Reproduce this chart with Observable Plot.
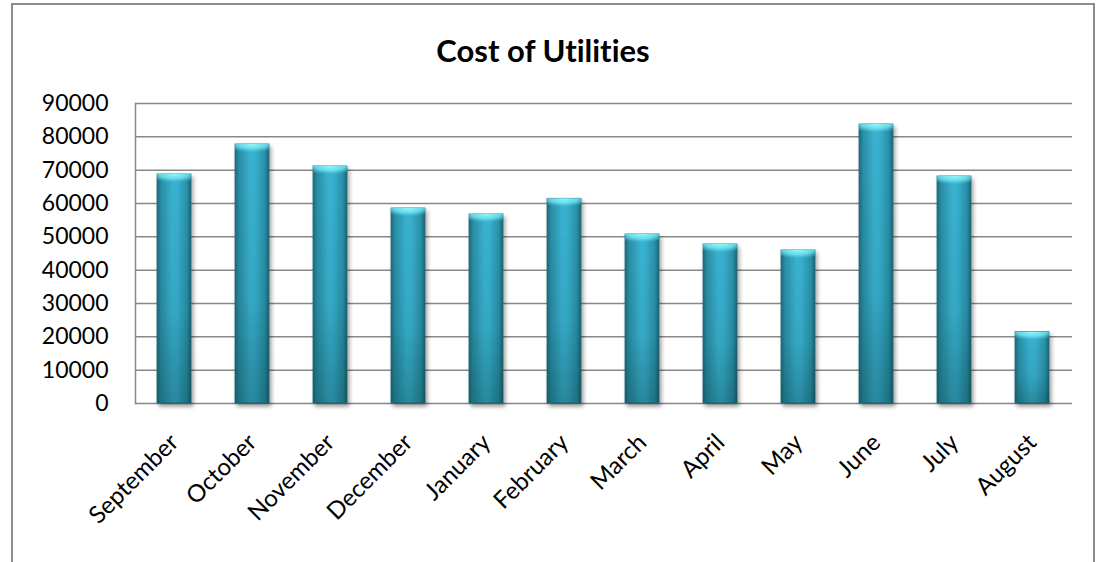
<!DOCTYPE html>
<html>
<head>
<meta charset="utf-8">
<script src="https://cdn.jsdelivr.net/npm/d3@7"></script>
<script src="https://cdn.jsdelivr.net/npm/@observablehq/plot@0.6"></script>
<style>
  html, body { margin: 0; padding: 0; background: #fff; }
  #wrap { position: relative; width: 1104px; height: 562px; overflow: hidden; font-family: Lato, "Open Sans", sans-serif; font-variant-ligatures: none; }
  #border { position: absolute; left: 11px; top: 3px; width: 1084px; height: 620px; border: 2px solid #8c8c8c; box-sizing: border-box; }
  #title { position: absolute; left: 0; width: 1086px; top: 31px; text-align: center; font-weight: bold; font-size: 31px; color: #000; line-height: 38px; font-variant-ligatures: none; font-feature-settings: "liga" 0, "clig" 0; }
  #plot { position: absolute; left: 0; top: 0; }
  svg text { font-variant-ligatures: none; }
</style>
</head>
<body>
<div id="wrap">
  <div id="border"></div>
  <div id="title">Cost of Utilities</div>
  <div id="plot"></div>
</div>
<script>
const months = ["September","October","November","December","January","February","March","April","May","June","July","August"];
const costs = [68700, 77700, 71100, 58500, 56700, 61400, 50700, 47700, 45900, 83700, 68100, 21400];
const yTicks = [0, 10000, 20000, 30000, 40000, 50000, 60000, 70000, 80000, 90000];

const data = months.map((m, i) => ({month: m, cost: costs[i]}));

const chart = Plot.plot({
  width: 1104,
  height: 562,
  marginTop: 103,
  marginBottom: 159,
  marginLeft: 135,
  marginRight: 32,
  style: {fontFamily: "Lato, 'Open Sans', sans-serif", background: "transparent", overflow: "visible"},
  x: {domain: months, paddingInner: 0.56, paddingOuter: 0.28, label: null},
  y: {domain: [0, 90000], label: null},
  marks: [
    Plot.ruleY(yTicks, {stroke: "#888888", strokeWidth: 1.5}),
    Plot.frame({anchor: "left", stroke: "#888888", strokeWidth: 1.5}),
    Plot.barY(data, {x: "month", y: "cost", fill: "url(#barGrad)", stroke: "#226f80", strokeWidth: 0.8}),
    Plot.barY(data, {x: "month", y: "cost", fill: "url(#vShade)"}),
    Plot.rectY(data, {x: "month", y1: d => d.cost - 3200, y2: "cost", fill: "url(#capGrad)"}),
    Plot.axisY({ticks: yTicks, tickSize: 0, tickPadding: 27, fontSize: 23, tickFormat: d => String(d), fill: "#000"}),
    Plot.axisX({tickSize: 0, tickRotate: -45, tickPadding: 35, fontSize: 24, fill: "#000"})
  ]
});

document.getElementById("plot").appendChild(chart);

const svg = d3.select(chart);
const defs = svg.insert("defs", ":first-child");
const g1 = defs.append("linearGradient").attr("id", "barGrad").attr("x1", "0").attr("x2", "1").attr("y1", "0").attr("y2", "0");
[[0, "#1f6a7a"], [0.12, "#2a8ea6"], [0.45, "#3ab2d0"], [0.6, "#38b0cf"], [0.88, "#2a90a8"], [1, "#1c6474"]]
  .forEach(([o, c]) => g1.append("stop").attr("offset", o).attr("stop-color", c));
const g2 = defs.append("linearGradient").attr("id", "vShade").attr("x1", "0").attr("x2", "0").attr("y1", "0").attr("y2", "1");
[[0, "rgba(0,50,50,0)"], [0.6, "rgba(0,50,50,0.06)"], [1, "rgba(0,50,50,0.24)"]]
  .forEach(([o, c]) => g2.append("stop").attr("offset", o).attr("stop-color", c));
const g3 = defs.append("radialGradient").attr("id", "capGrad").attr("cx", "0.5").attr("cy", "0").attr("r", "0.8").attr("fx", "0.5").attr("fy", "0");
[[0, "rgba(150,248,250,1)"], [0.55, "rgba(115,230,242,0.8)"], [1, "rgba(80,200,225,0)"]]
  .forEach(([o, c]) => g3.append("stop").attr("offset", o).attr("stop-color", c));

svg.selectAll("g[aria-label='bar']").style("filter", "drop-shadow(2px 3px 2px rgba(0,0,0,0.35))");
</script>
</body>
</html>
